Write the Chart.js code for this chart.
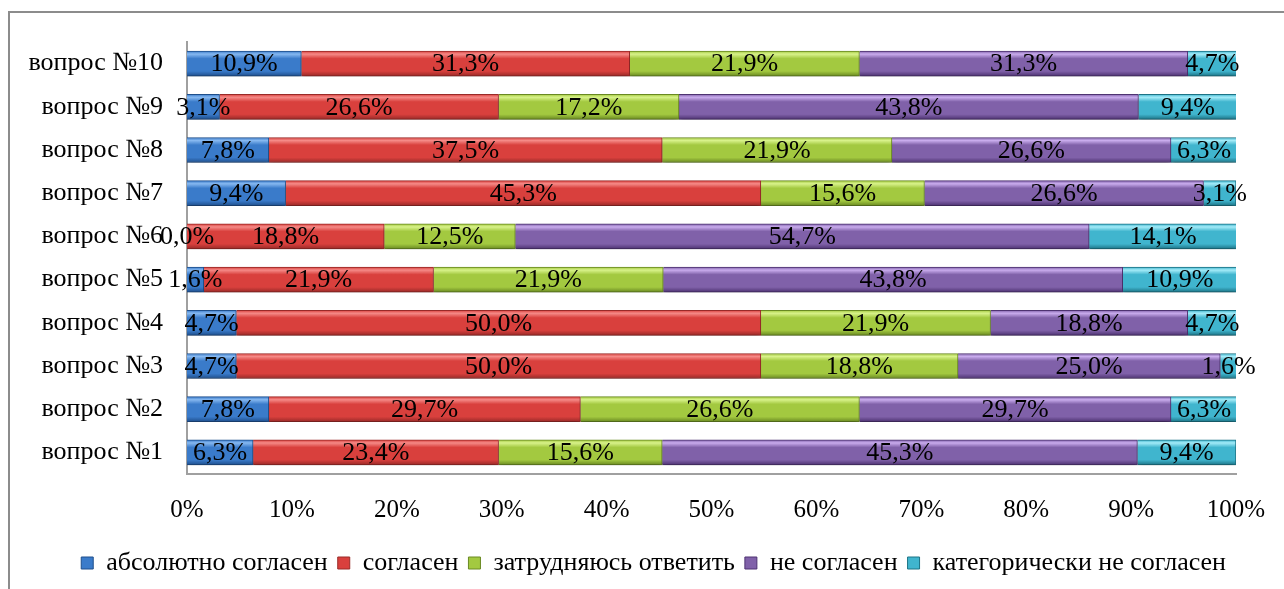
<!DOCTYPE html>
<html>
<head>
<meta charset="utf-8">
<script src="https://cdn.jsdelivr.net/npm/chart.js@4/dist/chart.umd.min.js"></script>
<style>
  html, body { margin: 0; padding: 0; background: #fff; overflow: hidden; }
  #wrap {
    position: absolute; left: 8px; top: 11px;
    width: 1300px; height: 590px;
    border-left: 2px solid #8c8c8c; border-top: 2px solid #8c8c8c;
  }
</style>
</head>
<body>
<div id="wrap"><canvas id="myChart" width="1300" height="576"></canvas></div>
<script>
// questions, top to bottom as drawn
var labels = ["вопрос №10", "вопрос №9", "вопрос №8", "вопрос №7", "вопрос №6",
              "вопрос №5", "вопрос №4", "вопрос №3", "вопрос №2", "вопрос №1"];

var absAgree   = [10.9, 3.1, 7.8, 9.4, 0.0, 1.6, 4.7, 4.7, 7.8, 6.3];
var agree      = [31.3, 26.6, 37.5, 45.3, 18.8, 21.9, 50.0, 50.0, 29.7, 23.4];
var hardToSay  = [21.9, 17.2, 21.9, 15.6, 12.5, 21.9, 21.9, 18.8, 26.6, 15.6];
var disagree   = [31.3, 43.8, 26.6, 26.6, 54.7, 43.8, 18.8, 25.0, 29.7, 45.3];
var strongDis  = [4.7, 9.4, 6.3, 3.1, 14.1, 10.9, 4.7, 1.6, 6.3, 9.4];

var seriesNames = ["абсолютно согласен", "согласен", "затрудняюсь ответить",
                   "не согласен", "категорически не согласен"];
var xTicks = [0, 10, 20, 30, 40, 50, 60, 70, 80, 90, 100];

// light / base / dark shades for the bevel look
var palette = [
  ["#86b8f0", "#3a7bca", "#1f4f8c"],
  ["#f58a87", "#d9403d", "#9a2a28"],
  ["#d8f28a", "#a3c940", "#6a8a22"],
  ["#c9aced", "#8061a9", "#4e3372"],
  ["#a3ebf8", "#40b5ce", "#1d7486"]
];

var serif = "'Liberation Serif', 'Times New Roman', serif";
var BAR_H = 25;

function bevelFill(i) {
  return function (context) {
    var chart = context.chart;
    var yScale = chart.scales.y;
    if (!chart.chartArea || !yScale) return palette[i][1];
    var cy = yScale.getPixelForValue(context.dataIndex);
    if (!isFinite(cy)) return palette[i][1];
    var top = cy - BAR_H / 2;
    var g = chart.ctx.createLinearGradient(0, top, 0, top + BAR_H);
    g.addColorStop(0, palette[i][1]);
    g.addColorStop(0.12, palette[i][0]);
    g.addColorStop(0.3, palette[i][1]);
    g.addColorStop(0.8, palette[i][1]);
    g.addColorStop(1, palette[i][2]);
    return g;
  };
}

var allValues = [absAgree, agree, hardToSay, disagree, strongDis];
var datasets = allValues.map(function (vals, i) {
  return {
    label: seriesNames[i],
    data: vals,
    backgroundColor: bevelFill(i),
    borderColor: palette[i][2],
    borderWidth: 1,
    barThickness: BAR_H
  };
});

// soft drop shadow under the bars
var barShadow = {
  id: "barShadow",
  beforeDatasetsDraw: function (chart) {
    var ctx = chart.ctx;
    ctx.save();
    ctx.shadowColor = "rgba(0,0,0,0.28)";
    ctx.shadowBlur = 5;
    ctx.shadowOffsetY = 4;
  },
  afterDatasetsDraw: function (chart) {
    chart.ctx.restore();
  }
};

// value labels in the middle of each segment
var valueLabels = {
  id: "valueLabels",
  afterDatasetsDraw: function (chart) {
    var ctx = chart.ctx;
    ctx.save();
    ctx.font = "26px " + serif;
    ctx.fillStyle = "#000";
    ctx.textAlign = "center";
    ctx.textBaseline = "middle";
    chart.data.datasets.forEach(function (ds, di) {
      var meta = chart.getDatasetMeta(di);
      meta.data.forEach(function (bar, idx) {
        var p = bar.getProps(["x", "y", "base"], true);
        var txt = ds.data[idx].toFixed(1).replace(".", ",") + "%";
        ctx.fillText(txt, (p.x + p.base) / 2, p.y + 1);
      });
    });
    ctx.restore();
  }
};

var ctx = document.getElementById("myChart").getContext("2d");
var chart = new Chart(ctx, {
  type: "bar",
  data: { labels: labels, datasets: datasets },
  options: {
    indexAxis: "y",
    responsive: false,
    animation: false,
    layout: { padding: { top: 29, right: 74, bottom: 3, left: 0 } },
    scales: {
      x: {
        stacked: true,
        min: 0,
        max: 100,
        grid: { display: false, drawTicks: false },
        border: { display: true, color: "#a0a0a0", width: 2 },
        afterBuildTicks: function (axis) {
          axis.ticks = xTicks.map(function (v) { return { value: v }; });
        },
        afterFit: function (axis) { axis.height = 66; },
        ticks: {
          color: "#000",
          font: { family: serif, size: 25 },
          padding: 21,
          callback: function (v) { return v + "%"; }
        }
      },
      y: {
        stacked: true,
        grid: { display: false, drawTicks: false },
        border: { display: true, color: "#a0a0a0", width: 2 },
        afterFit: function (axis) {
          axis.width = 177;
          // labels sit mid-band, so no extra room above/below is needed
          axis.paddingTop = 0;
          axis.paddingBottom = 0;
        },
        ticks: {
          color: "#000",
          font: { family: serif, size: 26 },
          padding: 24
        }
      }
    },
    plugins: {
      tooltip: { enabled: false },
      legend: {
        position: "bottom",
        align: "end",
        labels: {
          color: "#000",
          font: { family: serif, size: 26 },
          boxWidth: 12,
          boxHeight: 12,
          padding: 10,
          generateLabels: function (chart) {
            return chart.data.datasets.map(function (ds, i) {
              return {
                text: ds.label,
                fillStyle: palette[i][1],
                strokeStyle: palette[i][2],
                lineWidth: 1,
                datasetIndex: i
              };
            });
          }
        }
      }
    }
  },
  plugins: [barShadow, valueLabels]
});
</script>
</body>
</html>
